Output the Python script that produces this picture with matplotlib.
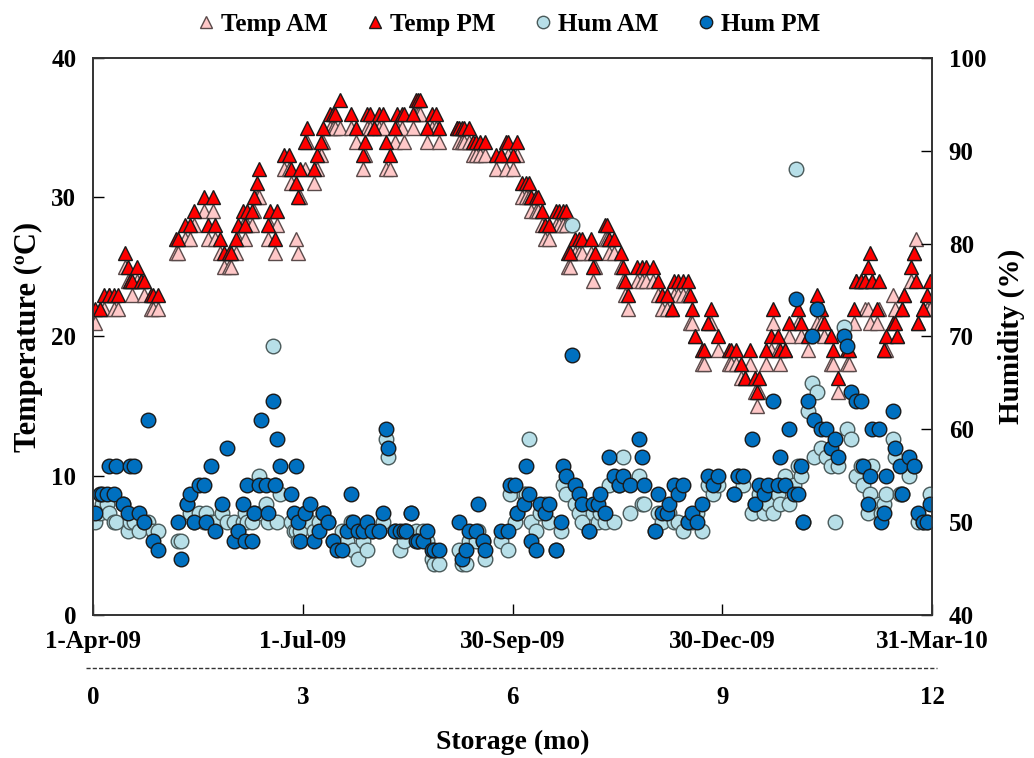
import matplotlib

matplotlib.use("Agg")

import matplotlib.pyplot as plt
from matplotlib.lines import Line2D

plt.rcParams["font.family"] = ["Liberation Serif", "DejaVu Serif"]
plt.rcParams["font.weight"] = "bold"

# storage day (0 = 1-Apr-09), AM / PM temperature (ºC)
temp_day = [1, 3, 5, 7, 9, 11, 14, 15, 16, 17, 19, 21, 22, 25, 26, 28,
            36, 37, 40, 42, 44, 48, 50, 52, 53, 55, 57, 59, 60, 62, 63, 65, 66, 67, 69, 70, 71, 72,
            76, 77, 79, 80, 83, 85, 86, 88, 89, 90, 92, 93, 96, 97, 99, 100, 103, 104, 105, 107,
            112, 114, 117, 118, 119, 120, 122, 124, 126, 127, 129, 131, 132, 134, 135, 139, 140,
            141, 142, 145, 147, 149, 150, 158, 159, 160, 161, 163, 165, 166, 168, 170, 175, 177,
            179, 180, 182, 184, 186, 188, 189, 190, 192, 193, 195, 196, 198, 201, 202, 204, 205,
            206, 207, 209, 211, 212, 216, 217, 218, 222, 223, 224, 226, 229, 230, 231, 232, 236,
            238, 240, 243, 245, 247, 249, 251, 252, 254, 256, 258, 259, 260, 261, 264, 265, 267,
            268, 271, 276, 277, 279, 281, 283, 285, 287, 288, 289, 292, 294, 295, 297, 298, 300,
            302, 306, 307, 310, 314, 316, 317, 320, 321, 323, 327, 328, 330, 331, 333, 335, 336,
            337, 338, 340, 341, 343, 344, 347, 348, 349, 351, 352, 355, 356, 357, 358, 360, 362, 363]
temp_am = [21, 22, 22, 23, 22, 22, 25, 24, 24, 23, 24, 24, 23, 22, 22, 22,
           26, 26, 27, 27, 28, 29, 27, 29, 27, 26, 25, 25, 25, 26, 27, 28, 27, 28, 28, 29, 30, 30,
           27, 28, 26, 28, 32, 32, 31, 27, 26, 30, 32, 34, 31, 32, 33, 34, 35, 35, 35, 35,
           35, 34, 32, 33, 35, 35, 35, 35, 35, 32, 32, 34, 35, 35, 34, 35, 36,
           36, 36, 34, 35, 35, 34, 35, 34, 34, 34, 34, 33, 33, 33, 33, 32, 33,
           32, 33, 32, 33, 30, 30, 30, 29, 29, 29, 28, 27, 27, 28, 28, 28, 28,
           25, 25, 26, 26, 26, 26, 24, 25, 27, 27, 26, 26, 25, 24, 23, 22, 24,
           24, 24, 24, 23, 22, 22, 22, 23, 23, 23, 23, 21, 21, 20, 18, 18, 21,
           21, 19, 18, 18, 18, 17, 17, 18, 16, 15, 16, 18, 19, 21, 19, 18, 19,
           20, 21, 20, 19, 21, 21, 20, 18, 18, 16, 18, 18, 21, 24, 24, 22, 22,
           21, 24, 21, 22, 19, 19, 23, 22, 20, 22, 23, 24, 26, 27, 21, 22, 22, 22]
temp_pm = [22, 22, 23, 23, 23, 23, 26, 25, 24, 24, 25, 24, 24, 23, 23, 23,
           27, 27, 28, 28, 29, 30, 28, 30, 28, 27, 26, 26, 26, 27, 28, 29, 28, 29, 29, 30, 31, 32,
           28, 29, 27, 29, 33, 33, 32, 31, 30, 32, 34, 35, 32, 33, 34, 35, 36, 36, 36, 37,
           36, 35, 33, 34, 36, 36, 35, 36, 36, 34, 33, 35, 36, 36, 36, 36, 37,
           37, 37, 35, 36, 36, 35, 35, 35, 35, 35, 35, 34, 34, 34, 34, 33, 33,
           34, 34, 33, 34, 31, 31, 31, 30, 30, 30, 29, 28, 28, 29, 29, 29, 29,
           26, 26, 27, 27, 27, 27, 25, 26, 28, 28, 27, 27, 26, 25, 24, 23, 25,
           25, 25, 25, 24, 23, 23, 22, 24, 24, 24, 24, 23, 22, 20, 19, 19, 21,
           22, 20, 19, 19, 19, 18, 17, 19, 17, 16, 17, 19, 20, 22, 20, 19, 19,
           21, 22, 21, 20, 23, 22, 21, 20, 19, 17, 19, 19, 22, 24, 24, 24, 25,
           26, 24, 22, 24, 19, 20, 21, 21, 20, 22, 23, 25, 26, 24, 21, 22, 23, 24]

# storage day, AM / PM relative humidity (%)
hum_day = [1, 3, 4, 6, 7, 9, 10, 13, 15, 16, 18, 20, 22, 24, 26, 28,
           37, 38, 41, 42, 44, 46, 48, 49, 51, 53, 56, 58, 61, 63, 65, 66, 67, 69, 70, 72, 73, 75,
           76, 78, 79, 80, 81, 86, 87, 88, 89, 90, 92, 94, 96, 98, 100, 102, 104, 106, 108, 110,
           112, 113, 115, 117, 119, 121, 124, 126, 127, 128, 131, 133, 135, 136, 138, 140, 141,
           143, 145, 147, 148, 150, 159, 160, 162, 163, 166, 167, 169, 170, 177, 180, 181, 183,
           184, 187, 188, 189, 190, 192, 194, 196, 198, 201, 203, 204, 205, 208, 209, 211, 212,
           215, 217, 219, 220, 222, 224, 226, 228, 230, 233, 237, 238, 239, 244, 245, 247, 249,
           250, 252, 254, 256, 258, 260, 262, 264, 267, 269, 271, 278, 280, 282, 286, 287, 289,
           291, 293, 295, 297, 298, 300, 302, 304, 305, 306, 307, 308, 310, 312, 313, 314, 316,
           318, 320, 322, 323, 326, 327, 329, 331, 333, 334, 336, 337, 338, 341, 342, 343, 344,
           347, 348, 350, 351, 354, 356, 358, 360, 362, 363]
hum_am = [50, 51, 52, 52, 51, 50, 50, 52, 49, 50, 50, 49, 50, 50, 49, 49,
          48, 48, 52, 51, 50, 51, 50, 51, 50, 50, 51, 50, 50, 49, 50, 51, 50, 50, 51, 55, 51, 52,
          50, 69, 54, 50, 53, 50, 49, 49, 48, 49, 51, 50, 49, 50, 51, 50, 48, 48, 49, 48,
          50, 47, 46, 48, 47, 49, 49, 50, 59, 57, 49, 47, 48, 49, 51, 49, 48,
          49, 48, 46, 45.5, 45.5, 47, 45.5, 45.5, 48, 48, 49, 48, 46, 48, 47, 53, 50,
          51, 53, 53, 59, 50, 49, 51, 52, 50, 47, 49, 54, 53, 82, 52, 51, 50,
          49, 51, 50, 51, 50, 54, 50, 54, 57, 51, 55, 52, 52, 49, 51, 50, 51,
          51, 50, 50, 49, 50, 50, 51, 49, 54, 53, 54, 53, 55, 54, 51, 52, 53,
          51, 52, 51, 53, 52, 55, 52, 54, 88, 56, 55, 50, 62, 65, 57, 64, 58,
          57, 56, 50, 56, 71, 60, 59, 55, 56, 54, 51, 53, 56, 52, 51, 52, 53,
          59, 57, 53, 53, 55, 56, 50, 50, 50, 53]
hum_pm = [51, 53, 53, 53, 56, 53, 56, 52, 51, 56, 56, 51, 50, 61, 48, 47,
          50, 46, 52, 53, 50, 54, 54, 50, 56, 49, 52, 58, 48, 49, 52, 48, 54, 48, 51, 54, 61, 54,
          51, 63, 54, 59, 56, 53, 51, 56, 50, 48, 51, 52, 48, 49, 51, 50, 48, 47, 47, 49,
          53, 50, 49, 49, 50, 49, 49, 51, 60, 58, 49, 49, 49, 49, 51, 48, 48,
          48, 49, 47, 47, 47, 50, 46, 47, 49, 49, 52, 48, 47, 49, 49, 54, 54,
          51, 52, 56, 53, 48, 47, 52, 51, 52, 47, 50, 56, 55, 68, 54, 53, 52,
          49, 52, 52, 53, 51, 57, 55, 54, 55, 54, 59, 57, 54, 49, 53, 51, 51,
          52, 54, 53, 54, 50, 51, 50, 52, 55, 54, 55, 53, 55, 55, 59, 52, 54,
          53, 54, 63, 54, 57, 54, 60, 53, 74, 53, 56, 50, 63, 70, 61, 73, 60,
          60, 58, 59, 57, 70, 69, 64, 63, 63, 56, 52, 55, 60, 60, 50, 51, 55,
          62, 58, 56, 53, 57, 56, 51, 50, 50, 52]

date_ticks = [0, 91, 182, 273, 364]
date_labels = ["1-Apr-09", "1-Jul-09", "30-Sep-09", "30-Dec-09", "31-Mar-10"]
storage_ticks = [0, 3, 6, 9, 12]

fig = plt.figure(figsize=(10.34, 7.58), dpi=100)
ax = fig.add_axes([0.0899, 0.1887, 0.8115, 0.7348])
ax2 = ax.twinx()

ax.plot(temp_day, temp_am, ls="none", marker="^", ms=10, mfc="#ffc8c8", mec="#5a4a4a",
        mew=1, label="Temp AM")
ax.plot(temp_day, temp_pm, ls="none", marker="^", ms=10, mfc="#ff0000", mec="#1a1a1a",
        mew=1, label="Temp PM")
ax2.plot(hum_day, hum_am, ls="none", marker="o", ms=10.5, mfc="#b7dfe8", mec="#4a5a5a",
         mew=1, label="Hum AM")
ax2.plot(hum_day, hum_pm, ls="none", marker="o", ms=10.5, mfc="#0070c0", mec="#1a1a1a",
         mew=1, label="Hum PM")

ax.set_xlim(0, 364)
ax.set_ylim(0, 40)
ax2.set_ylim(40, 100)
ax.set_yticks([0, 10, 20, 30, 40])
ax2.set_yticks([40, 50, 60, 70, 80, 90, 100])
ax.set_xticks(date_ticks)
ax.set_xticklabels(date_labels)

for a in (ax, ax2):
    for s in a.spines.values():
        s.set_color("#333333")
        s.set_linewidth(1.2)
ax.tick_params(axis="both", direction="in", length=8, width=1, labelsize=18, pad=12)
ax.tick_params(axis="x", pad=11)
ax2.tick_params(axis="y", direction="in", length=8, width=1, labelsize=18, pad=12)

ax.set_ylabel("Temperature (ºC)", fontsize=22, fontweight="bold", labelpad=6)
ax2.set_ylabel("Humidity (%)", fontsize=21, fontweight="bold", labelpad=8)

# storage months axis under the date axis
sec = ax.secondary_xaxis(-0.095, functions=(lambda d: d * 12 / 364, lambda m: m * 364 / 12))
sec.set_xticks(storage_ticks)
sec.spines["bottom"].set_visible(False)
sec.tick_params(axis="x", length=0, labelsize=18, pad=13)
sec.set_xlabel("Storage (mo)", fontsize=20, fontweight="bold", labelpad=15)
fig.add_artist(Line2D([0.083, 0.906], [0.1187, 0.1187], transform=fig.transFigure,
                      color="#333333", lw=1, ls=(0, (3, 1.5))))

handles = ax.get_lines() + ax2.get_lines()
fig.legend(handles=handles, labels=[h.get_label() for h in handles], loc="upper center",
           bbox_to_anchor=(0.49, 1.013), ncol=4, frameon=False, fontsize=18, markerscale=0.85,
           handletextpad=0.1, columnspacing=1.4, handlelength=1.0)

fig.savefig("out.png", dpi=100)
